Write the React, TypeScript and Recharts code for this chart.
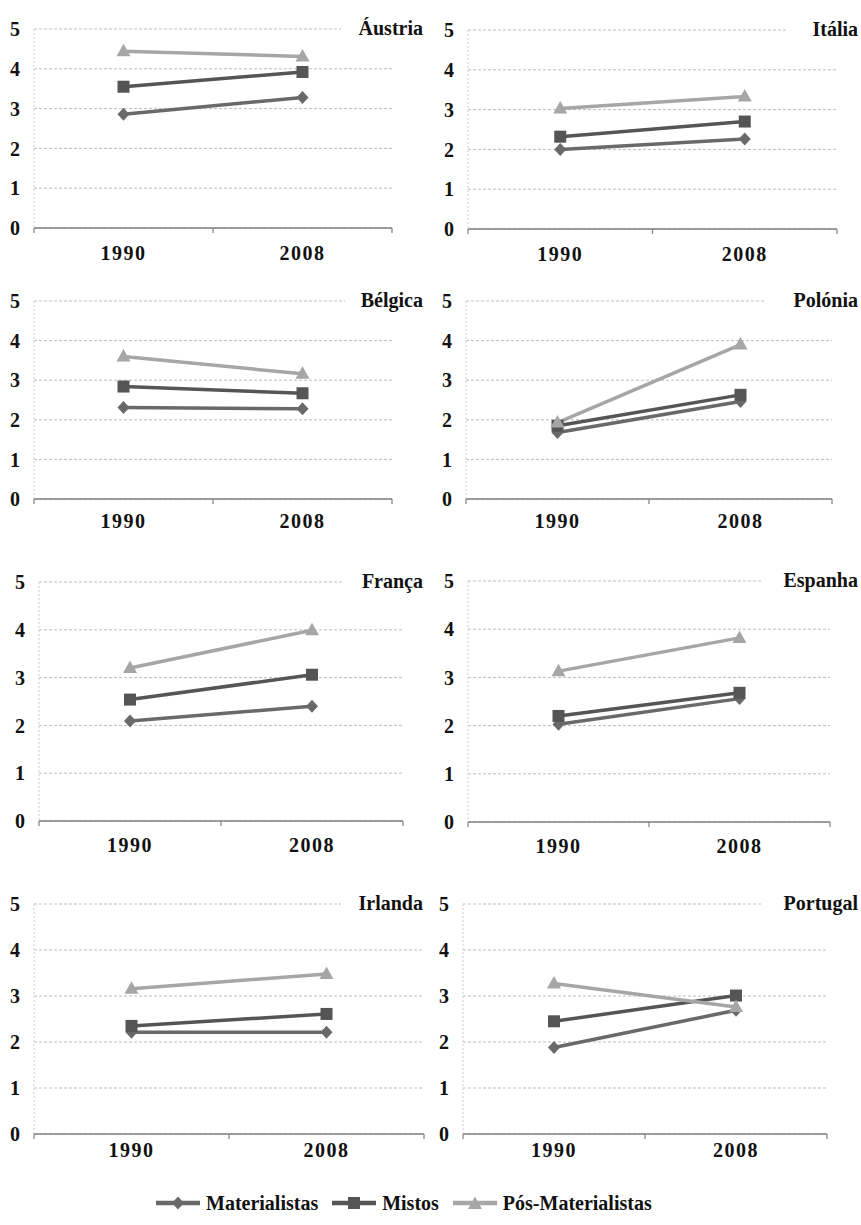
import React from "react";
import { LineChart, Line, XAxis, YAxis, CartesianGrid } from "recharts";

const years = ["1990", "2008"];
const countries = ["Áustria", "Itália", "Bélgica", "Polónia", "França", "Espanha", "Irlanda", "Portugal"];
const yTicks = [0, 1, 2, 3, 4, 5];

// values per country, same order as `countries`
const materialistas1990 = [2.86, 2.0, 2.31, 1.68, 2.09, 2.03, 2.21, 1.88];
const materialistas2008 = [3.28, 2.26, 2.28, 2.46, 2.4, 2.56, 2.21, 2.69];
const mistos1990 = [3.55, 2.32, 2.84, 1.85, 2.54, 2.2, 2.35, 2.45];
const mistos2008 = [3.92, 2.7, 2.67, 2.63, 3.06, 2.68, 2.61, 3.01];
const posMat1990 = [4.44, 3.03, 3.6, 1.93, 3.2, 3.13, 3.16, 3.27];
const posMat2008 = [4.31, 3.33, 3.16, 3.9, 3.99, 3.82, 3.48, 2.76];

const FONT = "'Liberation Serif', 'Times New Roman', serif";
const C_MAT = "#696969";
const C_MIS = "#555555";
const C_POS = "#a6a6a6";

// plot rectangles of the 8 panels (page pixels)
const panels = [
  { l: 34, t: 29, r: 392, b: 228, dy: 25, right: 423, pad: 18 },
  { l: 468, t: 30, r: 837, b: 229, dy: 25, right: 858, pad: 24 },
  { l: 34, t: 301, r: 392, b: 499, dy: 22, right: 423, pad: 16 },
  { l: 466, t: 301, r: 832, b: 499, dy: 22, right: 858, pad: 28 },
  { l: 39, t: 582, r: 403, b: 821, dy: 24, right: 423, pad: 18 },
  { l: 468, t: 581, r: 830, b: 822, dy: 24, right: 858, pad: 22 },
  { l: 34, t: 904, r: 424, b: 1134, dy: 16, right: 423, pad: 18 },
  { l: 463, t: 904, r: 827, b: 1134, dy: 16, right: 858, pad: 22 },
];

const diamond = (color: string) => (p: any) => {
  const { cx, cy } = p;
  if (cx == null || cy == null) return <g key={`d${p.index}`} />;
  return (
    <path
      key={`d${p.index}`}
      d={`M${cx},${cy - 6.5} L${cx + 6},${cy} L${cx},${cy + 6.5} L${cx - 6},${cy} Z`}
      fill={color}
    />
  );
};

const square = (color: string) => (p: any) => {
  const { cx, cy } = p;
  if (cx == null || cy == null) return <g key={`s${p.index}`} />;
  return <rect key={`s${p.index}`} x={cx - 6} y={cy - 6} width={12} height={12} fill={color} />;
};

const triangle = (color: string) => (p: any) => {
  const { cx, cy } = p;
  if (cx == null || cy == null) return <g key={`t${p.index}`} />;
  return (
    <path
      key={`t${p.index}`}
      d={`M${cx},${cy - 7.5} L${cx + 7},${cy + 5} L${cx - 7},${cy + 5} Z`}
      fill={color}
    />
  );
};

const makeTick = (bw: number, dy: number) => (props: any) => {
  const { x, y, payload } = props;
  const last = payload.value === years[years.length - 1];
  return (
    <g>
      <line x1={x - bw / 2} x2={x - bw / 2} y1={y} y2={y + 5} stroke="#808080" strokeWidth={1.2} />
      {last && (
        <line x1={x + bw / 2} x2={x + bw / 2} y1={y} y2={y + 5} stroke="#808080" strokeWidth={1.2} />
      )}
      <text
        x={x}
        y={y + dy + 7}
        textAnchor="middle"
        fontFamily={FONT}
        fontWeight="bold"
        fontSize={20}
        letterSpacing={1.5}
        fill="#111"
      >
        {payload.value}
      </text>
    </g>
  );
};

function Panel({ i }: { i: number }) {
  const p = panels[i];
  const data = years.map((year, k) => ({
    year,
    materialistas: k === 0 ? materialistas1990[i] : materialistas2008[i],
    mistos: k === 0 ? mistos1990[i] : mistos2008[i],
    pos: k === 0 ? posMat1990[i] : posMat2008[i],
  }));
  const yw = 34;
  const mt = 12;
  const mr = 8;
  const xh = 40;
  const w = p.r - p.l + yw + mr;
  const h = p.b - p.t + mt + xh;
  const bw = (p.r - p.l) / years.length;
  return (
    <>
      <div style={{ position: "absolute", left: p.l - yw, top: p.t - mt }}>
        <LineChart width={w} height={h} data={data} margin={{ top: mt, right: mr, left: 0, bottom: 0 }}>
          <CartesianGrid vertical={false} stroke="#bdbdbd" strokeDasharray="3 2" />
          <XAxis
            dataKey="year"
            scale="band"
            interval={0}
            height={xh}
            tickLine={false}
            tickSize={0}
            tickMargin={0}
            axisLine={{ stroke: "#808080", strokeWidth: 1.5 }}
            tick={makeTick(bw, p.dy)}
          />
          <YAxis
            domain={[0, 5]}
            ticks={yTicks}
            width={yw}
            interval={0}
            tickLine={false}
            tickSize={0}
            tickMargin={14}
            axisLine={{ stroke: "#cccccc", strokeDasharray: "2 2" }}
            tick={{ fontFamily: FONT, fontWeight: "bold", fontSize: 20, fill: "#111" }}
          />
          <Line
            dataKey="materialistas"
            stroke={C_MAT}
            strokeWidth={3.5}
            dot={diamond(C_MAT)}
            isAnimationActive={false}
          />
          <Line
            dataKey="mistos"
            stroke={C_MIS}
            strokeWidth={3.5}
            dot={square(C_MIS)}
            isAnimationActive={false}
          />
          <Line
            dataKey="pos"
            stroke={C_POS}
            strokeWidth={3.5}
            dot={triangle(C_POS)}
            isAnimationActive={false}
          />
        </LineChart>
      </div>
      <div
        style={{
          position: "absolute",
          right: 861 - p.right,
          top: p.t - 13,
          lineHeight: "24px",
          paddingLeft: p.pad,
          background: "#fff",
          fontFamily: FONT,
          fontWeight: "bold",
          fontSize: 20,
          color: "#111",
          whiteSpace: "nowrap",
        }}
      >
        {countries[i]}
      </div>
    </>
  );
}

function LegendItem({ label, color, kind }: { label: string; color: string; kind: string }) {
  const cx = 22;
  const cy = 9;
  let marker: React.ReactNode = null;
  if (kind === "diamond") marker = diamond(color)({ cx, cy, index: 0 });
  if (kind === "square") marker = square(color)({ cx, cy, index: 0 });
  if (kind === "triangle") marker = triangle(color)({ cx, cy: cy + 1, index: 0 });
  return (
    <div style={{ display: "flex", alignItems: "center", marginRight: 14 }}>
      <svg width={44} height={18}>
        <line x1={0} x2={44} y1={cy} y2={cy} stroke={color} strokeWidth={4.5} />
        {marker}
      </svg>
      <span style={{ marginLeft: 6, fontFamily: FONT, fontWeight: "bold", fontSize: 20, color: "#111" }}>
        {label}
      </span>
    </div>
  );
}

export default function App() {
  return (
    <div style={{ position: "absolute", left: 0, top: 0, width: 861, height: 1225, background: "#fff" }}>
      {countries.map((c, i) => (
        <Panel key={c} i={i} />
      ))}
      <div
        style={{
          position: "absolute",
          left: 156,
          top: 1190,
          display: "flex",
          alignItems: "center",
          height: 26,
        }}
      >
        <LegendItem label="Materialistas" color={C_MAT} kind="diamond" />
        <LegendItem label="Mistos" color={C_MIS} kind="square" />
        <LegendItem label="Pós-Materialistas" color={C_POS} kind="triangle" />
      </div>
    </div>
  );
}
